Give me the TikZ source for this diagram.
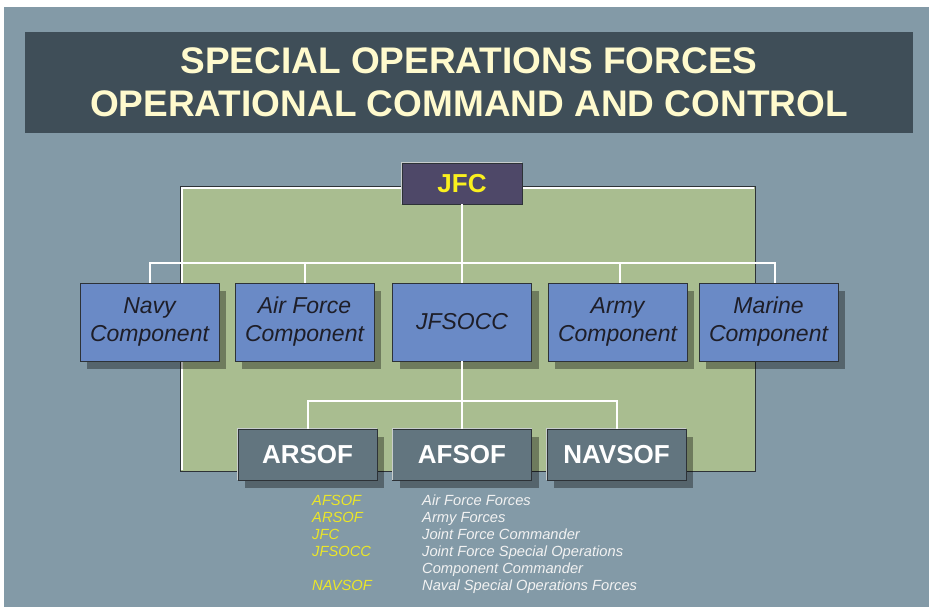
\documentclass[tikz,border=0pt]{standalone}
\usepackage{fontspec}
\setmainfont{Liberation Sans}
\usepackage{tikz}
\definecolor{slatebg}{RGB}{131, 154, 167}
\definecolor{titlebg}{RGB}{63, 78, 88}
\definecolor{titletext}{RGB}{255, 250, 205}
\definecolor{panelgreen}{RGB}{169, 189, 144}
\definecolor{jfcbg}{RGB}{78, 72, 104}
\definecolor{compblue}{RGB}{106, 138, 198}
\definecolor{sofgray}{RGB}{98, 117, 127}
\definecolor{signyellow}{RGB}{250, 240, 30}
\definecolor{keyyellow}{RGB}{235, 230, 40}
\definecolor{darktext}{RGB}{30, 30, 40}
\definecolor{edgedark}{RGB}{45, 50, 55}
\definecolor{edgelight}{RGB}{200, 205, 205}
\usetikzlibrary{positioning, calc, shadows}

\tikzset{
    boxshadow/.style={drop shadow={shadow xshift=7pt, shadow yshift=-8pt,
                      opacity=.35, fill=black}},
    compbox/.style={draw=edgedark, line width=0.8pt, fill=compblue,
                    minimum width=139pt, minimum height=78pt, inner sep=0pt,
                    align=center, text=darktext, boxshadow,
                    font=\fontsize{23}{28}\selectfont\itshape},
    sofbox/.style={draw=edgedark, line width=0.8pt, fill=sofgray,
                   minimum width=139pt, minimum height=51pt, inner sep=0pt,
                   text=white, boxshadow,
                   font=\fontsize{26}{30}\selectfont\bfseries},
    bevel/.style={draw=edgelight, line width=0.8pt},
    link/.style={draw=white, line width=2pt},
    keyabbr/.style={anchor=base west, inner sep=0pt, text=keyyellow,
                    font=\fontsize{14.7}{17}\selectfont\itshape},
    keytext/.style={anchor=base west, inner sep=0pt, text=white!95!black,
                    font=\fontsize{14.7}{17}\selectfont\itshape},
}

\begin{document}
\begin{tikzpicture}[x=1pt, y=-1pt]
    \useasboundingbox (0,0) rectangle (929,607);
    \fill[slatebg] (4,7) rectangle (929,607);

    % title bar
    \node (title) [fill=titlebg, minimum width=888pt, minimum height=101pt,
          inner sep=0pt, align=center, text=titletext,
          font=\fontsize{37}{43}\selectfont\bfseries] at (469,82.5)
          {SPECIAL OPERATIONS FORCES\\OPERATIONAL COMMAND AND CONTROL};

    % green panel
    \fill[panelgreen] (180,186) rectangle (755,471);
    \draw[edgedark, line width=1pt] (180,186) rectangle (755,471);
    \draw[white, line width=1.2pt] (182,470) -- (182,188) -- (754,188);

    % commander
    \node (jfc) [draw=edgedark, line width=0.8pt, fill=jfcbg,
          minimum width=120pt, minimum height=41pt, inner sep=0pt,
          text=signyellow, font=\fontsize{26}{30}\selectfont\bfseries]
          at (462,183.5) {JFC};

    % components
    \node (navy)   [compbox] at (149.5,322) {Navy\\Component};
    \node (air)    [compbox] at (304.5,322) {Air Force\\Component};
    \node (jfsocc) [compbox] at (462,322)   {JFSOCC};
    \node (army)   [compbox] at (617.5,322) {Army\\Component};
    \node (marine) [compbox] at (768.5,322) {Marine\\Component};

    % SOF forces
    \node (arsof)  [sofbox] at (307.5,454.5) {ARSOF};
    \node (afsof)  [sofbox] at (462,454.5)   {AFSOF};
    \node (navsof) [sofbox] at (616.5,454.5) {NAVSOF};

    \foreach \n in {jfc, arsof, afsof, navsof}
        \draw[bevel] (\n.south west) |- (\n.north east);

    % connectors
    \coordinate (topbus) at (0,263);
    \coordinate (sofbus) at (0,401);
    \draw[link] (jfc.south) -- (jfsocc.north);
    \draw[link] (navy.north) |- ([xshift=6pt]marine.north |- topbus)
                -- ([xshift=6pt]marine.north);
    \draw[link] (air.north) -- (air.north |- topbus);
    \draw[link] ([xshift=2pt]army.north) -- ([xshift=2pt]army.north |- topbus);
    \draw[link] (jfsocc.south) -- (afsof.north);
    \draw[link] (arsof.north) |- (navsof.north |- sofbus) -- (navsof.north);

    % key
    \foreach \abbr/\txt [count=\i] in {AFSOF/Air Force Forces,
            ARSOF/Army Forces, JFC/Joint Force Commander,
            JFSOCC/Joint Force Special Operations,
            /Component Commander, NAVSOF/Naval Special Operations Forces} {
        \node (abbr\i) [keyabbr] at (312,{505+17*(\i-1)}) {\abbr};
        \node (txt\i) [keytext] at (422,{505+17*(\i-1)}) {\txt};
    }
\end{tikzpicture}
\end{document}
